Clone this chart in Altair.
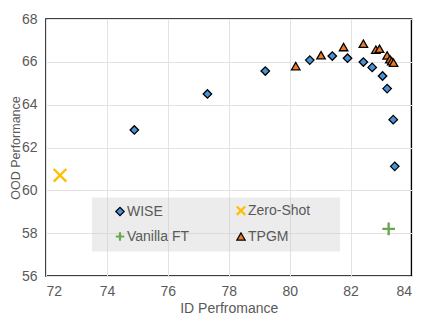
import altair as alt
import pandas as pd

methods = ["WISE", "Vanilla FT", "Zero-Shot", "TPGM"]

wise_id = [74.9, 77.3, 79.2, 80.66, 81.4, 81.9, 82.42, 82.71, 83.05, 83.2, 83.4, 83.45]
wise_ood = [62.82, 64.5, 65.57, 66.08, 66.27, 66.17, 65.99, 65.74, 65.34, 64.75, 63.3, 61.12]

tpgm_id = [80.2, 81.03, 81.77, 82.42, 82.83, 82.95, 83.2, 83.29, 83.35, 83.41]
tpgm_ood = [65.8, 66.31, 66.69, 66.85, 66.57, 66.61, 66.3, 66.12, 66.03, 65.96]

zs_id = [72.46]
zs_ood = [60.7]

ft_id = [83.25]
ft_ood = [58.2]

rows = []
for m, xs, ys in [("WISE", wise_id, wise_ood), ("TPGM", tpgm_id, tpgm_ood),
                  ("Zero-Shot", zs_id, zs_ood), ("Vanilla FT", ft_id, ft_ood)]:
    for a, b in zip(xs, ys):
        rows.append({"method": m, "id": a, "ood": b})
df = pd.DataFrame(rows)

x_path = "M-1,-1L1,1M-1,1L1,-1"
plus_path = "M-1,0L1,0M0,-1L0,1"

shapes = ["diamond", plus_path, x_path, "triangle-up"]
fills = ["#4a92d8", "#6aa84f", "#ffbf00", "#ee7a26"]
strokes = ["#000000", "#6aa84f", "#ffbf00", "#000000"]

font = "Liberation Sans"
grey = "#595959"

enc = dict(
    x=alt.X("id:Q", title="ID Perfromance",
            scale=alt.Scale(domain=[72, 84], nice=False, zero=False),
            axis=alt.Axis(values=[72, 74, 76, 78, 80, 82, 84], format="d")),
    y=alt.Y("ood:Q", title="OOD Performance",
            scale=alt.Scale(domain=[56, 68], nice=False, zero=False),
            axis=alt.Axis(values=[56, 58, 60, 62, 64, 66, 68], format="d",
                          titleX=-27, titleBaseline="alphabetic", titleFontSize=12.5)),
    shape=alt.Shape("method:N", scale=alt.Scale(domain=methods, range=shapes),
                    title="\u00a0",
                    legend=alt.Legend(orient="none", legendX=46, legendY=178.5, columns=2,
                                      columnPadding=30, rowPadding=8, padding=6,
                                      symbolOffset=15, labelOffset=0,
                                      titleOrient="right", titlePadding=24, titleFontSize=4,
                                      fillColor="rgba(200,200,200,0.35)",
                                      labelFontSize=14, labelFont=font, labelColor=grey,
                                      symbolSize=70,
                                      symbolStrokeWidth=alt.ExprRef(
                                          "datum.value === 'Zero-Shot' || datum.value === 'Vanilla FT' ? 2.2 : 1.2"))),
    fill=alt.Fill("method:N", scale=alt.Scale(domain=methods, range=fills), title="\u00a0"),
    stroke=alt.Stroke("method:N", scale=alt.Scale(domain=methods, range=strokes), title="\u00a0"),
)

base = alt.Chart(df)
solid = base.transform_filter(
    alt.FieldOneOfPredicate(field="method", oneOf=["WISE", "TPGM"])
).mark_point(filled=True, opacity=1, size=72, strokeWidth=1.3).encode(**enc)
lines = base.transform_filter(
    alt.FieldOneOfPredicate(field="method", oneOf=["Zero-Shot", "Vanilla FT"])
).mark_point(filled=True, opacity=1, size=160, strokeWidth=2.4).encode(**enc)

chart = alt.layer(solid, lines).properties(
    width=365.5, height=257,
    autosize=alt.AutoSizeParams(type="none"),
    padding={"left": 38, "top": 11, "right": 8, "bottom": 44},
).configure_view(
    stroke="black", strokeWidth=1.5
).configure_axis(
    grid=True, gridColor="#e3e3e3", gridWidth=1, domain=False, ticks=False,
    labelFont=font, labelFontSize=14, labelColor=grey,
    titleFont=font, titleFontSize=14, titleColor=grey, titleFontWeight="normal",
).configure_axisX(
    labelPadding=8, titlePadding=3,
).configure_axisY(
    labelPadding=9,
)

chart.save("out.html", embed_options={"renderer": "svg", "actions": False})
